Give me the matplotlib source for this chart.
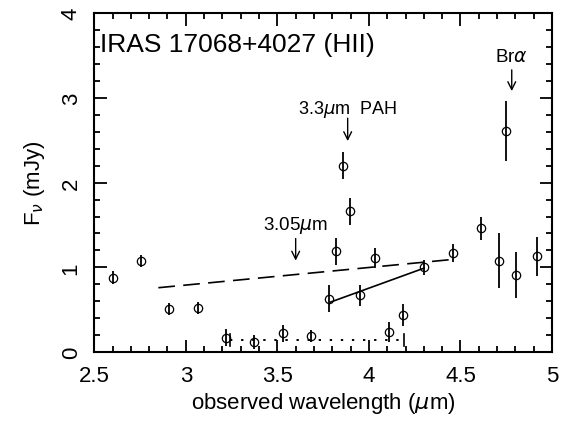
import numpy as np
import matplotlib
matplotlib.use('Agg')
import matplotlib.pyplot as plt
from matplotlib.ticker import MultipleLocator

plt.rcParams['font.family'] = ['Liberation Sans', 'DejaVu Sans']
plt.rcParams['mathtext.fontset'] = 'dejavusans'

# measured fluxes
wave = [2.600, 2.755, 2.910, 3.065, 3.218, 3.374, 3.529, 3.683, 3.782, 3.820,
        3.857, 3.897, 3.953, 4.031, 4.109, 4.186, 4.301, 4.457, 4.610, 4.709,
        4.749, 4.805, 4.920]
flux = [0.88, 1.08, 0.51, 0.52, 0.17, 0.12, 0.22, 0.19, 0.63, 1.19,
        2.20, 1.66, 0.67, 1.11, 0.24, 0.44, 1.00, 1.17, 1.46, 1.08,
        2.61, 0.91, 1.13]
ferr = [0.08, 0.07, 0.07, 0.07, 0.10, 0.08, 0.10, 0.07, 0.16, 0.16,
        0.16, 0.16, 0.12, 0.12, 0.12, 0.13, 0.09, 0.11, 0.14, 0.32,
        0.35, 0.27, 0.23]

# continuum lines
dash_x = [2.85, 4.44]
dash_y = [0.76, 1.09]
solid_x = [3.79, 4.30]
solid_y = [0.59, 0.99]
dot_x = [3.24, 4.19]
dot_y = [0.145, 0.145]

# feature labels: (text, x, arrow top, arrow bottom, text y)
features = [(r'3.3$\mu$m  PAH', 3.884, 2.76, 2.49, 2.87, 13),
            (r'3.05$\mu$m', 3.60, 1.34, 1.08, 1.51, 13.5),
            (r'Br$\alpha$', 4.78, 3.33, 3.08, 3.49, 13.5)]

fig = plt.figure(figsize=(5.61, 4.27), dpi=100)
ax = fig.add_axes([0.168, 0.173, 0.816, 0.794])

ax.errorbar(wave, flux, yerr=ferr, fmt='o', mfc='none', mec='black', ecolor='black',
            ms=6, mew=0.9, elinewidth=1.3, capsize=0)

l, = ax.plot(dash_x, dash_y, color='black', lw=1.2)
l.set_dashes((10, 5))
ax.plot(solid_x, solid_y, color='black', lw=1.2)
d, = ax.plot(dot_x, dot_y, color='black', lw=1.4)
d.set_dashes((1.2, 4.5))
for xx in dot_x:
    ax.plot([xx, xx], [dot_y[0] - 0.07, dot_y[0] + 0.07], color='black', lw=1.2)

for txt, xx, ytop, ybot, ytxt, fs in features:
    ax.annotate('', xy=(xx, ybot), xytext=(xx, ytop),
                arrowprops=dict(arrowstyle='->', lw=1.0, color='black',
                                shrinkA=0, shrinkB=0, mutation_scale=14))
    ax.text(xx, ytxt, txt, ha='center', va='center', fontsize=fs)

ax.text(2.53, 3.64, 'IRAS 17068+4027 (HII)', ha='left', va='center', fontsize=19)

ax.set_xlim(2.5, 5)
ax.set_ylim(0, 4)
ax.xaxis.set_major_locator(MultipleLocator(0.5))
ax.xaxis.set_minor_locator(MultipleLocator(0.1))
ax.yaxis.set_major_locator(MultipleLocator(1))
ax.yaxis.set_minor_locator(MultipleLocator(0.2))
ax.set_xticks([2.5, 3, 3.5, 4, 4.5, 5])
ax.set_xticklabels(['2.5', '3', '3.5', '4', '4.5', '5'])
ax.set_yticks([0, 1, 2, 3, 4])
ax.set_yticklabels(['0', '1', '2', '3', '4'], rotation=90, va='center')
ax.tick_params(which='both', direction='in', top=True, right=True, labelsize=16, width=1.3)
ax.tick_params(which='major', length=9, pad=9)
ax.tick_params(which='minor', length=4.5)
for s in ax.spines.values():
    s.set_linewidth(1.5)

ax.set_xlabel(r'observed wavelength ($\mu$m)', fontsize=16, labelpad=3)
ax.set_ylabel(r'F$_\nu$ (mJy)', fontsize=16, labelpad=10)

fig.savefig('out.png', dpi=100)
